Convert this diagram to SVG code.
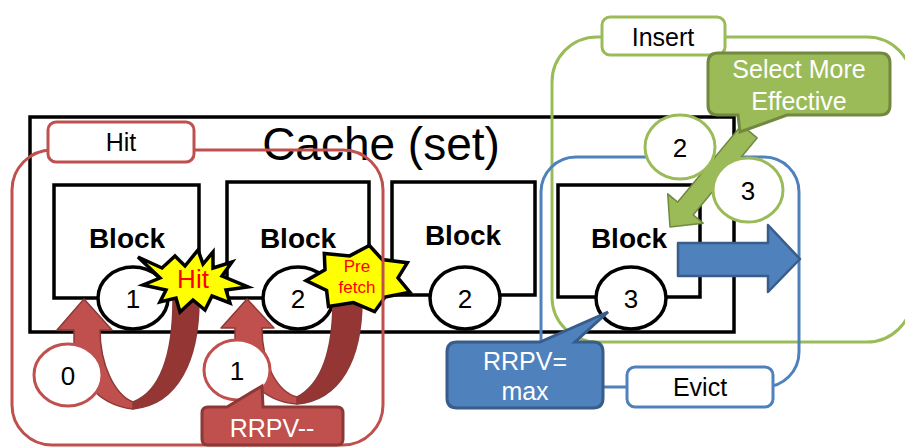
<svg xmlns="http://www.w3.org/2000/svg" width="905" height="447" viewBox="0 0 905 447">
  <style>
    text { font-family: "Liberation Sans", Arial, sans-serif; }
    .blk { fill: #fff; stroke: #000; stroke-width: 3.5; }
    .btxt { font-size: 28px; font-weight: bold; text-anchor: middle; fill: #000; }
    .rr { fill: #fff; stroke: #000; stroke-width: 3.5; }
    .num { font-size: 26px; text-anchor: middle; fill: #000; }
    .lbl { font-size: 25px; text-anchor: middle; fill: #000; }
    .wtxt { font-size: 25px; text-anchor: middle; fill: #fff; }
    .red-frame { fill: none; stroke: #C0504D; stroke-width: 3; }
    .grn-frame { fill: none; stroke: #9BBB59; stroke-width: 3; }
    .blu-frame { fill: none; stroke: #4F81BD; stroke-width: 3; }
    .star { fill: #FFFF00; stroke: #000; stroke-width: 3.5; stroke-linejoin: miter; }
    .star-txt { fill: #FF0000; text-anchor: middle; }
  </style>

  <!-- cache set container -->
  <g id="cache">
    <rect x="30" y="117" width="704" height="215" fill="#fff" stroke="#000" stroke-width="3.5"/>
    <text x="381" y="160" font-size="46" text-anchor="middle" fill="#000">Cache (set)</text>
  </g>

  <!-- frames of the three operations -->
  <g id="insert-frame">
    <rect class="grn-frame" x="552" y="37" width="360" height="305" rx="45"/>
  </g>
  <g id="evict-frame">
    <rect class="blu-frame" x="541" y="157" width="258" height="230" rx="35"/>
  </g>

  <!-- blocks with their RRPV values -->
  <g id="block1">
    <rect class="blk" x="54" y="185" width="145" height="113"/>
    <text class="btxt" x="127" y="248">Block</text>
    <ellipse class="rr" cx="133" cy="298" rx="35" ry="31"/>
    <text class="num" x="133" y="308">1</text>
  </g>
  <g id="block2">
    <rect class="blk" x="227" y="182" width="142" height="116"/>
    <text class="btxt" x="298" y="248">Block</text>
    <ellipse class="rr" cx="298" cy="298" rx="35" ry="31"/>
    <text class="num" x="298" y="308">2</text>
  </g>
  <g id="block3">
    <rect class="blk" x="392" y="182" width="143" height="113"/>
    <text class="btxt" x="463" y="245">Block</text>
    <ellipse class="rr" cx="465" cy="298" rx="35" ry="31"/>
    <text class="num" x="465" y="308">2</text>
  </g>
  <g id="block4">
    <rect class="blk" x="558" y="185" width="142" height="112"/>
    <text class="btxt" x="629" y="248">Block</text>
    <ellipse class="rr" cx="631" cy="298" rx="35" ry="31"/>
    <text class="num" x="631" y="308">3</text>
  </g>

  <!-- connectors: curved RRPV arrows, insert arrow, evict arrow -->
  <g id="connectors" stroke-linejoin="round">
    <path d="M173,290 L173,300 C173,355 160,392 133,402 L133,409 C178,405 199,360 199,300 L199,290 Z" fill="#943634" stroke="#8C3836" stroke-width="1.5"/>
    <path d="M57,330 L84,299 L112,330 L100,330 C100,365 115,395 133,402 L133,409 C95,405 76,375 74,342 L74,330 Z" fill="#C0504D" stroke="#8C3836" stroke-width="1.5"/>
    <path d="M333,290 L333,300 C333,355 320,385 297,397 L297,404 C340,400 362,360 362,300 L362,290 Z" fill="#943634" stroke="#8C3836" stroke-width="1.5"/>
    <path d="M221,328 L247,299 L274,328 L262,328 C262,365 278,392 297,397 L297,404 C262,402 236,372 235,342 L235,328 Z" fill="#C0504D" stroke="#8C3836" stroke-width="1.5"/>
    <polygon points="741.7,125.1 757.1,137.9 693.1,214.9 703.1,223.2 670,227 667.7,193.8 677.7,202.1" fill="#9BBB59" stroke="#71893F" stroke-width="1.5"/>
    <polygon points="678,243 768,243 768,225 800,259 768,292 768,276 678,276" fill="#4F81BD" stroke="#385D8A" stroke-width="2.5"/>
  </g>

  <!-- hit and prefetch events -->
  <g id="hit-star">
    <polygon class="star" points="138,257 162,268 175,256 185,266 198,250 203,264 213,252 213,268 232,262 222,276 248,287 226,290 230,303 212,296 205,310 193,300 180,312 176,298 160,302 166,290 143,285 160,278"/>
    <text class="star-txt" x="193" y="288" font-size="26">Hit</text>
  </g>
  <g id="prefetch-star">
    <polygon class="star" points="369.4,245.5 382.2,259.5 407.4,262.7 398,277.8 409.8,292.2 385.1,297 374.6,311.7 353.4,302.6 328.5,306.6 326.6,290.5 306.1,280.7 325,269.7 324.3,253.5 349.7,255.9"/>
    <text class="star-txt" x="357" y="272" font-size="17">Pre</text>
    <text class="star-txt" x="357" y="293" font-size="17">fetch</text>
  </g>

  <!-- hit frame and its values -->
  <g id="hit-frame">
    <rect class="red-frame" x="12" y="150" width="371" height="295" rx="40"/>
  </g>
  <g id="hit-label">
    <rect x="48" y="122" width="146" height="40" rx="8" fill="#fff" stroke="#C0504D" stroke-width="3"/>
    <text class="lbl" x="121" y="151">Hit</text>
  </g>
  <g id="rrpv0">
    <ellipse cx="68" cy="375" rx="34" ry="31" fill="#fff" stroke="#C0504D" stroke-width="3"/>
    <text class="num" x="68" y="385">0</text>
  </g>
  <g id="rrpv1">
    <ellipse cx="237" cy="370" rx="33" ry="30" fill="#fff" stroke="#C0504D" stroke-width="3"/>
    <text class="num" x="237" y="380">1</text>
  </g>
  <g id="rrpv-dec">
    <path d="M208,407 L227,407 L262,386 L263,407 L337,407 Q343,407 343,413 L343,439 Q343,445 337,445 L208,445 Q202,445 202,439 L202,413 Q202,407 208,407 Z" fill="#C0504D" stroke="#8C3836" stroke-width="3"/>
    <text class="wtxt" x="272" y="437" font-size="27">RRPV--</text>
  </g>

  <!-- insert side -->
  <g id="insert-label">
    <rect x="602" y="17" width="123" height="38" rx="8" fill="#fff" stroke="#9BBB59" stroke-width="3"/>
    <text class="lbl" x="663" y="46">Insert</text>
  </g>
  <g id="select-callout">
    <path d="M718,53 L880,53 Q890,53 890,63 L890,105 Q890,115 880,115 L787,115 L740,132 L738,115 L718,115 Q708,115 708,105 L708,63 Q708,53 718,53 Z" fill="#9BBB59" stroke="#71893F" stroke-width="3"/>
    <text class="wtxt" x="799" y="78">Select More</text>
    <text class="wtxt" x="799" y="110">Effective</text>
  </g>
  <g id="insert2">
    <ellipse cx="680" cy="147" rx="35" ry="32" fill="#fff" stroke="#9BBB59" stroke-width="3"/>
    <text class="num" x="680" y="157">2</text>
  </g>
  <g id="insert3">
    <ellipse cx="748" cy="190" rx="35" ry="32" fill="#fff" stroke="#9BBB59" stroke-width="3"/>
    <text class="num" x="748" y="200">3</text>
  </g>

  <!-- evict side -->
  <g id="rrpv-max">
    <path d="M457,342 L540,342 L608,312 L575,342 L593,342 Q603,342 603,352 L603,398 Q603,408 593,408 L457,408 Q447,408 447,398 L447,352 Q447,342 457,342 Z" fill="#4F81BD" stroke="#385D8A" stroke-width="3"/>
    <text class="wtxt" x="525" y="370">RRPV=</text>
    <text class="wtxt" x="525" y="400">max</text>
  </g>
  <g id="evict-label">
    <rect x="627" y="367" width="146" height="40" rx="8" fill="#fff" stroke="#4F81BD" stroke-width="3"/>
    <text class="lbl" x="700" y="396">Evict</text>
  </g>
</svg>
